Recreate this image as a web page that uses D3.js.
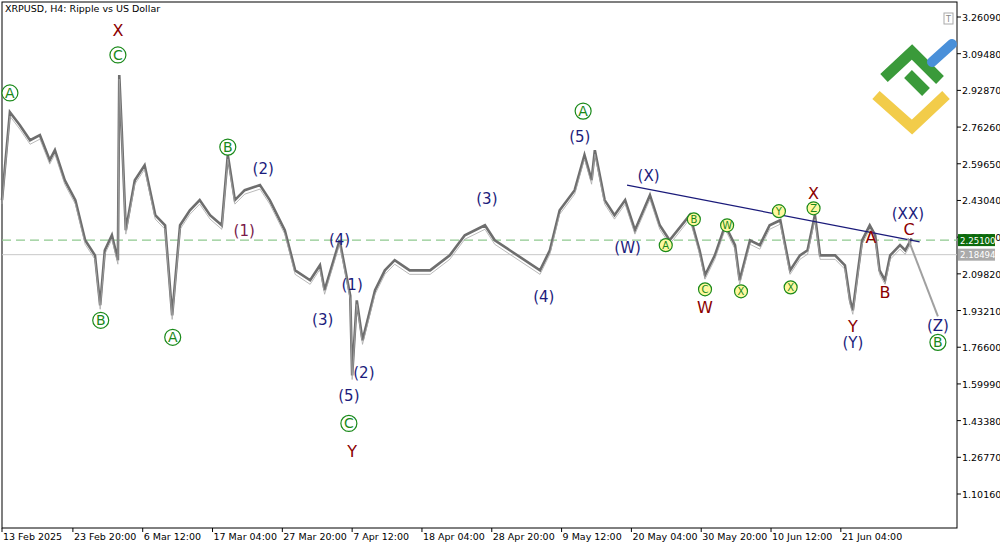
<!DOCTYPE html><html><head><meta charset="utf-8"><script src="https://cdn.jsdelivr.net/npm/d3@7"></script>
<style>body{margin:0;background:#fff}text{font-family:Tahoma,"DejaVu Sans",sans-serif}</style></head><body><svg id="c" width="1000" height="545"></svg><script>
const startDate=new Date(2025,1,13);
const dayOffsets=[0,1.2,2.7,4.3,5.8,7.3,8.1,9.6,11.2,12.7,14.2,15.0,15.7,16.8,17.7,17.9,18.3,18.9,20.3,21.8,23.4,24.9,26.0,27.2,28.7,30.2,31.8,33.6,34.5,35.6,37.1,39.4,40.9,43.2,44.8,47.1,48.6,49.3,51.6,53.2,53.5,54.2,55.1,57.0,58.5,60.0,62.3,65.4,68.4,70.7,73.8,75.3,77.6,82.2,83.7,85.2,87.5,89.0,90.1,90.6,92.1,93.6,95.2,96.7,99.0,100.5,102.0,105.1,106.6,107.4,108.9,110.5,112.0,112.7,114.3,115.8,117.3,118.9,120.4,121.9,123.1,124.2,125.0,127.3,128.8,129.6,130.0,130.8,131.4,132.6,133.4,134.1,134.9,135.7,137.2,138.0,139.0];
const prices=[2.432,2.830,2.772,2.703,2.726,2.613,2.658,2.522,2.432,2.250,2.182,1.956,2.205,2.273,2.160,2.998,2.749,2.296,2.522,2.590,2.364,2.318,1.910,2.318,2.386,2.432,2.364,2.318,2.636,2.432,2.477,2.500,2.432,2.296,2.114,2.069,2.137,2.024,2.250,2.000,1.638,1.978,1.797,2.024,2.114,2.160,2.114,2.114,2.182,2.273,2.318,2.250,2.205,2.114,2.205,2.386,2.477,2.636,2.522,2.658,2.432,2.364,2.432,2.296,2.454,2.318,2.250,2.364,2.205,2.092,2.182,2.318,2.228,2.069,2.250,2.228,2.318,2.341,2.114,2.182,2.205,2.364,2.182,2.182,2.137,1.978,1.933,2.114,2.250,2.318,2.273,2.114,2.069,2.182,2.228,2.205,2.259];
const yTicks=[3.26090,3.09480,2.92870,2.76260,2.59650,2.43040,2.26430,2.09820,1.93210,1.76600,1.59990,1.43380,1.26770,1.10160];
const xTickLabels=["13 Feb 2025","23 Feb 20:00","6 Mar 12:00","17 Mar 04:00","27 Mar 20:00","7 Apr 12:00","18 Apr 04:00","28 Apr 20:00","9 May 12:00","20 May 04:00","30 May 20:00","10 Jun 12:00","21 Jun 04:00"];
const xTickDays=[0,10.83,21.5,32.17,42.83,53.5,64.17,74.83,85.5,96.17,106.83,117.5,128.17];
const labelText=["Ⓐ","Ⓒ","X","Ⓑ","Ⓐ","Ⓑ","(2)","(1)","(4)","(1)","(3)","(2)","(5)","Ⓒ","Y","(3)","(4)","(5)","Ⓐ","(X)","(W)","ⓐ","ⓑ","ⓒ","W","ⓦ","ⓧ","ⓨ","ⓧ","ⓩ","X","A","B","C","(XX)","Y","(Y)","(Z)","Ⓑ"];
const labelDay=[1.2,17.7,17.7,15.1,26.1,34.5,39.9,37.0,51.6,53.5,49.0,55.3,53.0,53.0,53.5,74.1,82.8,88.3,88.8,98.8,95.6,101.4,105.7,107.4,107.4,110.8,112.9,118.7,120.5,124.0,124.0,132.8,134.9,138.6,138.4,130.0,130.0,143.0,143.0];
const labelPrice=[2.917,3.089,3.202,1.888,1.811,2.672,2.577,2.296,2.255,2.051,1.892,1.652,1.548,1.421,1.294,2.441,1.996,2.722,2.835,2.545,2.219,2.228,2.345,2.028,1.947,2.318,2.019,2.382,2.037,2.395,2.463,2.264,2.015,2.300,2.372,1.861,1.788,1.865,1.788];
const labelKind=["g","g","r","g","g","g","n","m","n","n","n","n","n","g","r","n","n","n","g","n","n","s","s","s","r","s","s","s","s","s","r","r","r","r","n","r","n","n","g"];
const trendDays=[95.5,140.2],trendPrices=[2.500,2.243];
const projDays=[138.4,143.0],projPrices=[2.259,1.906];
const bidPrice=2.18494,linePrice=2.25100;

const svg=d3.select("#c");
const L=2,R=957,T=2,B=528;
const day=d=>d3.timeHour.offset(startDate,Math.round(d*24));
const x=d3.scaleTime().domain([startDate,day(145.9)]).range([L,R]);
const y=d3.scaleLinear().domain([3.2609,1.1016]).range([17,494]);
svg.append("rect").attr("x",L).attr("y",T).attr("width",R-L).attr("height",B-T).attr("fill","#fff").attr("stroke","#000").attr("stroke-width",1);
yTicks.forEach(v=>{svg.append("line").attr("x1",R).attr("x2",R+4).attr("y1",y(v)).attr("y2",y(v)).attr("stroke","#000");
svg.append("text").attr("x",R+5).attr("y",y(v)+4).attr("font-size",9.5).attr("fill","#000").text(v.toFixed(5));});
xTickDays.forEach((d,i)=>{const xx=x(day(d));svg.append("line").attr("x1",xx).attr("x2",xx).attr("y1",B).attr("y2",B+4).attr("stroke","#000");
svg.append("text").attr("x",xx+1).attr("y",540).attr("font-size",9.5).text(xTickLabels[i]);});
svg.append("line").attr("x1",L).attr("x2",R).attr("y1",y(bidPrice)).attr("y2",y(bidPrice)).attr("stroke","#c8c8c8");
svg.append("line").attr("x1",L).attr("x2",R).attr("y1",y(linePrice)).attr("y2",y(linePrice)).attr("stroke","#8fc98f").attr("stroke-width",1.3).attr("stroke-dasharray","9,5");
const pts=dayOffsets.map((d,i)=>[x(day(d)),y(prices[i])]);
svg.append("path").attr("d",d3.line()(pts)).attr("fill","none").attr("stroke","#6e6e6e").attr("stroke-width",2.6).attr("stroke-linejoin","miter");
svg.append("path").attr("d",d3.line()(pts)).attr("fill","none").attr("stroke","#a8a8a8").attr("stroke-width",0.8).attr("transform","translate(0,4)");
svg.append("line").attr("x1",x(day(trendDays[0]))).attr("y1",y(trendPrices[0])).attr("x2",x(day(trendDays[1]))).attr("y2",y(trendPrices[1])).attr("stroke","#1a1a7a").attr("stroke-width",1.2);
svg.append("line").attr("x1",x(day(projDays[0]))).attr("y1",y(projPrices[0])).attr("x2",x(day(projDays[1]))).attr("y2",y(projPrices[1])).attr("stroke","#a0a0a0").attr("stroke-width",2);
[[linePrice,"#0c6b0c"],[bidPrice,"#aaaaaa"]].forEach(([v,c])=>{svg.append("rect").attr("x",R+1).attr("y",y(v)-6).attr("width",37).attr("height",12).attr("fill",c);
svg.append("text").attr("x",R+3).attr("y",y(v)+3.5).attr("font-size",8.6).attr("fill","#fff").text(v.toFixed(5));});
const col={g:"#1a8a1a",r:"#8b0000",n:"#1c1c7c",m:"#7a1a4a",s:"#1a8a1a"};
labelText.forEach((t,i)=>{const k=labelKind[i];const xx=x(day(labelDay[i])),yy=y(labelPrice[i]);
if(k==="g"||k==="s"){const r=k==="g"?8:6.5;svg.append("circle").attr("cx",xx).attr("cy",yy).attr("r",r).attr("fill",k==="s"?"#fff8a0":"#fff").attr("stroke","#1a8a1a").attr("stroke-width",1.2);
const letter={"Ⓐ":"A","Ⓑ":"B","Ⓒ":"C","ⓐ":"A","ⓑ":"B","ⓒ":"C","ⓦ":"W","ⓧ":"X","ⓨ":"Y","ⓩ":"Z"}[t];
svg.append("text").attr("x",xx).attr("y",yy+(k==="g"?5:4)).attr("text-anchor","middle").attr("font-size",k==="g"?14:10).attr("fill","#1a8a1a").text(letter);}
else svg.append("text").attr("x",xx).attr("y",yy+5.5).attr("text-anchor","middle").attr("font-size",k==="r"?16:15).attr("fill",col[k]).text(t);});
svg.append("text").attr("x",5).attr("y",12).attr("font-size",9.5).text("XRPUSD, H4:  Ripple vs US Dollar");
svg.append("rect").attr("x",944).attr("y",13).attr("width",9).attr("height",11).attr("fill","#fff").attr("stroke","#aaa");
svg.append("text").attr("x",946).attr("y",22).attr("font-size",8).attr("fill","#888").text("T");
const g=svg.append("g");
g.append("path").attr("d","M876,95 L912,127 L946,95").attr("fill","none").attr("stroke","#f2cc4a").attr("stroke-width",11);
g.append("path").attr("d","M884,78 L912,52 L940,80").attr("fill","none").attr("stroke","#3a9a3a").attr("stroke-width",11);
g.append("path").attr("d","M908,74 L926,92").attr("stroke","#3a9a3a").attr("stroke-width",11);
g.append("path").attr("d","M932,62 L952,44").attr("stroke","#4a90d9").attr("stroke-width",10).attr("stroke-linecap","round");
</script></body></html>
